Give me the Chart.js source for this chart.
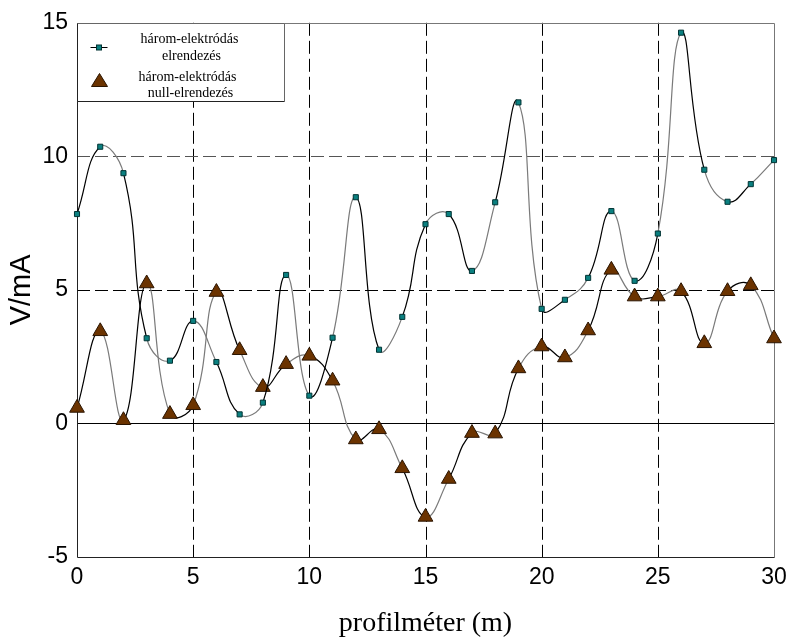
<!DOCTYPE html>
<html>
<head>
<meta charset="utf-8">
<title>három-elektródás elrendezés</title>
<script src="https://cdn.jsdelivr.net/npm/chart.js@4/dist/chart.umd.min.js"></script>
<style>
	html, body { margin: 0; padding: 0; background: #fff; }
	#wrap { width: 789px; height: 640px; }
</style>
</head>
<body>
<div id="wrap"><canvas id="myChart" width="789" height="640"></canvas></div>
<script>
	/* data */
	var profil = [0, 1, 2, 3, 4, 5, 6, 7, 8, 9, 10, 11, 12, 13, 14, 15, 16, 17, 18, 19, 20, 21, 22, 23, 24, 25, 26, 27, 28, 29, 30];
	var elrendezes = [7.84, 10.36, 9.37, 3.19, 2.35, 3.84, 2.3, 0.34, 0.78, 5.56, 1.04,
		3.21, 8.47, 2.76, 3.99, 7.46, 7.84, 5.71, 8.28, 12.02, 4.29,
		4.63, 5.45, 7.95, 5.34, 7.11, 14.63, 9.5, 8.3, 8.96, 9.86];
	var nullElrendezes = [0.58, 3.45, 0.12, 5.24, 0.35, 0.68, 4.92, 2.74, 1.36, 2.22, 2.53,
		1.6, -0.6, -0.22, -1.68, -3.5, -2.08, -0.36, -0.38, 2.06, 2.88,
		2.47, 3.48, 5.75, 4.75, 4.75, 4.95, 3.0, 4.95, 5.17, 3.18];
	var xTicks = [0, 5, 10, 15, 20, 25, 30];
	var yTicks = [-5, 0, 5, 10, 15];
	var legendLines = [['három-elektródás', 'elrendezés'], ['három-elektródás', 'null-elrendezés']];

	function points(ys) {
		return profil.map(function(x, i) { return {x: x, y: ys[i]}; });
	}

	/* segments alternate black / grey like the original plot */
	function segColor(ctx) {
		return ctx.p0DataIndex % 2 ? '#7a7a7a' : '#000';
	}

	/* dashed grid, zero line and frame drawn through the scales */
	var gridPlugin = {
		id: 'gridLines',
		beforeDatasetsDraw: function(chart) {
			var c = chart.ctx, a = chart.chartArea,
				xs = chart.scales.x, ys = chart.scales.y;
			c.save();
			c.lineWidth = 1;
			c.setLineDash([13, 5]);
			xTicks.slice(1, -1).forEach(function(v) {
				var px = Math.round(xs.getPixelForValue(v)) + 0.5;
				c.strokeStyle = '#000';
				c.beginPath(); c.moveTo(px, a.top); c.lineTo(px, a.bottom); c.stroke();
			});
			[5, 10].forEach(function(v) {
				var py = Math.round(ys.getPixelForValue(v)) + 0.5;
				c.strokeStyle = v == 10 ? '#555' : '#000';
				c.beginPath(); c.moveTo(a.left, py); c.lineTo(a.right, py); c.stroke();
			});
			c.setLineDash([]);
			var zero = Math.round(ys.getPixelForValue(0)) + 0.5;
			c.strokeStyle = '#000';
			c.beginPath(); c.moveTo(a.left, zero); c.lineTo(a.right, zero); c.stroke();
			// frame: grey top/right, black left/bottom
			var l = Math.round(a.left) + 0.5, r = Math.round(a.right) + 0.5,
				t = Math.round(a.top) + 0.5, b = Math.round(a.bottom) + 0.5;
			c.strokeStyle = '#777';
			c.beginPath(); c.moveTo(l, t); c.lineTo(r, t); c.lineTo(r, b); c.stroke();
			c.strokeStyle = '#222';
			c.beginPath(); c.moveTo(l, t); c.lineTo(l, b); c.lineTo(r, b); c.stroke();
			c.restore();
		}
	};

	/* boxed legend in the top-left corner */
	var legendPlugin = {
		id: 'boxLegend',
		afterDraw: function(chart) {
			var c = chart.ctx, a = chart.chartArea,
				x0 = Math.round(a.left) + 0.5, y0 = Math.round(a.top) + 0.5, w = 207, h = 78;
			c.save();
			c.fillStyle = '#fff';
			c.fillRect(x0, y0, w, h);
			c.lineWidth = 1;
			c.strokeStyle = '#666';
			c.beginPath(); c.moveTo(x0, y0); c.lineTo(x0 + w, y0); c.lineTo(x0 + w, y0 + h); c.stroke();
			c.strokeStyle = '#222';
			c.beginPath(); c.moveTo(x0, y0); c.lineTo(x0, y0 + h); c.lineTo(x0 + w, y0 + h); c.stroke();

			// marker 1: line with square
			c.strokeStyle = '#000';
			c.beginPath(); c.moveTo(x0 + 13, y0 + 24); c.lineTo(x0 + 30, y0 + 24); c.stroke();
			c.fillStyle = '#0b8080';
			c.strokeStyle = '#033';
			c.fillRect(x0 + 19, y0 + 21.5, 5, 5);
			c.strokeRect(x0 + 19, y0 + 21.5, 5, 5);

			// marker 2: triangle
			c.fillStyle = '#6b3300';
			c.strokeStyle = '#2a1400';
			c.beginPath();
			c.moveTo(x0 + 22, y0 + 50);
			c.lineTo(x0 + 30, y0 + 63);
			c.lineTo(x0 + 14, y0 + 63);
			c.closePath(); c.fill(); c.stroke();

			c.fillStyle = '#000';
			c.font = '14px "Liberation Serif", "Times New Roman", serif';
			c.textAlign = 'center';
			c.textBaseline = 'middle';
			c.fillText(legendLines[0][0], x0 + 112, y0 + 16);
			c.fillText(legendLines[0][1], x0 + 114, y0 + 33);
			c.fillText(legendLines[1][0], x0 + 110, y0 + 54);
			c.fillText(legendLines[1][1], x0 + 113, y0 + 70);
			c.restore();
		}
	};

	var ctx = document.getElementById('myChart').getContext('2d');

	var config = {
		type: 'line',
		data: {
			datasets: [{
				label: legendLines[0].join(' '),
				data: points(elrendezes),
				borderWidth: 1.2,
				borderColor: '#000',
				segment: { borderColor: segColor },
				tension: 0.45,
				pointStyle: 'rect',
				pointRadius: 3.6,
				pointBackgroundColor: '#0b8080',
				pointBorderColor: '#033',
				pointBorderWidth: 1,
				fill: false,
				clip: false
			}, {
				label: legendLines[1].join(' '),
				data: points(nullElrendezes),
				borderWidth: 1.2,
				borderColor: '#000',
				segment: { borderColor: segColor },
				tension: 0.45,
				pointStyle: 'triangle',
				pointRadius: 8.5,
				pointBackgroundColor: '#6b3300',
				pointBorderColor: '#2a1400',
				pointBorderWidth: 1,
				fill: false,
				clip: false
			}]
		},
		options: {
			responsive: false,
			animation: false,
			events: [],
			layout: { padding: { top: 22, right: 15, left: 0, bottom: 0 } },
			plugins: {
				legend: { display: false },
				tooltip: { enabled: false }
			},
			scales: {
				x: {
					type: 'linear',
					min: 0,
					max: 30,
					afterBuildTicks: function(scale) {
						scale.ticks = xTicks.map(function(v) { return {value: v}; });
					},
					afterFit: function(scale) {
						scale.height = 83;
						scale.paddingLeft = 0;
						scale.paddingRight = 0;
					},
					grid: { display: false, drawTicks: false },
					border: { display: false },
					ticks: {
						color: '#000',
						padding: 7,
						maxRotation: 0,
						font: { family: '"Liberation Sans", Arial, sans-serif', size: 23 }
					},
					title: {
						display: true,
						text: 'profilméter (m)',
						color: '#000',
						padding: { top: 0, bottom: 0 },
						font: { family: '"Liberation Serif", "Times New Roman", serif', size: 28 }
					}
				},
				y: {
					min: -5,
					max: 15,
					afterBuildTicks: function(scale) {
						scale.ticks = yTicks.map(function(v) { return {value: v}; });
					},
					afterFit: function(scale) { scale.width = 77; },
					grid: { display: false, drawTicks: false },
					border: { display: false },
					ticks: {
						color: '#000',
						padding: 9,
						font: { family: '"Liberation Sans", Arial, sans-serif', size: 23 }
					},
					title: {
						display: true,
						text: 'V/mA',
						color: '#000',
						padding: { top: 5, bottom: 0 },
						font: { family: '"Liberation Sans", Arial, sans-serif', size: 29 }
					}
				}
			}
		},
		plugins: [gridPlugin, legendPlugin]
	};

	var myChart = new Chart(ctx, config);
</script>
</body>
</html>
